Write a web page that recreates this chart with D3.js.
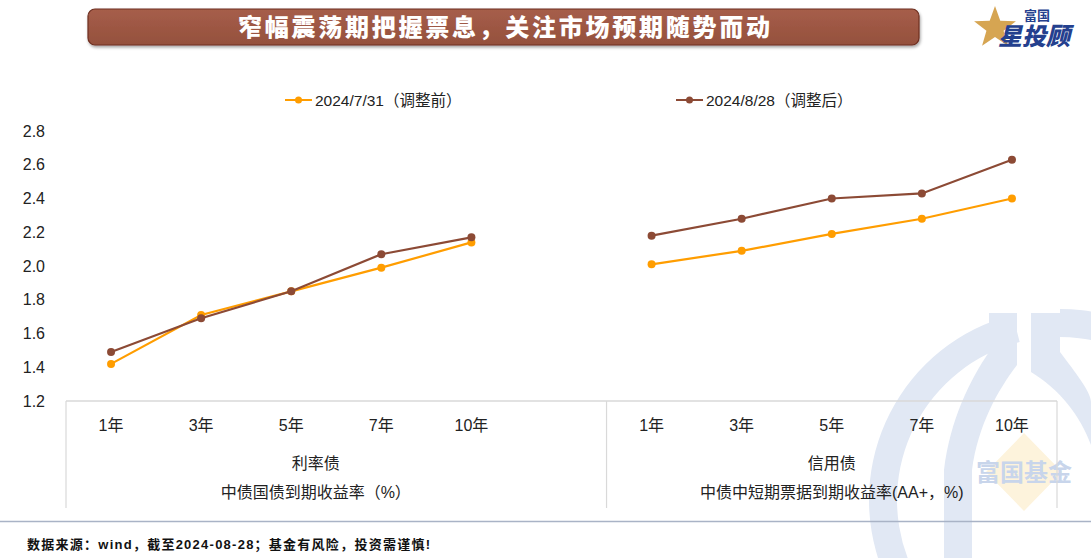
<!DOCTYPE html>
<html>
<head>
<meta charset="utf-8">
<script src="https://cdn.jsdelivr.net/npm/d3@7"></script>
<style>
  body { margin: 0; background: #fff; }
  svg { display: block; font-family: "Liberation Sans", "Noto Sans CJK SC", sans-serif; }
</style>
</head>
<body>
<script>
// categories for both groups (left group has an empty 6th slot)
var rateCats = ["1年", "3年", "5年", "7年", "10年", ""];
var creditCats = ["1年", "3年", "5年", "7年", "10年"];
var groupNames = ["利率债", "信用债"];
var groupSubs = ["中债国债到期收益率（%）", "中债中短期票据到期收益率(AA+，%)"];
var seriesNames = ["2024/7/31（调整前）", "2024/8/28（调整后）"];

// values
var rateBefore = [1.42, 1.71, 1.85, 1.99, 2.14];
var rateAfter = [1.49, 1.69, 1.85, 2.07, 2.17];
var creditBefore = [2.01, 2.09, 2.19, 2.28, 2.40];
var creditAfter = [2.18, 2.28, 2.40, 2.43, 2.63];

var yTicks = [1.2, 1.4, 1.6, 1.8, 2.0, 2.2, 2.4, 2.6, 2.8];

var colors = ["#ff9d00", "#8c4a35"];

var w = 1091, h = 558;

var svg = d3.select("body").append("svg")
  .attr("width", w)
  .attr("height", h);

// keys for the band scale
var keys = [];
rateCats.forEach(function(c, i) { keys.push("r" + i); });
creditCats.forEach(function(c, i) { keys.push("c" + i); });

var x = d3.scaleBand().domain(keys).range([66, 1057]).padding(0);
var y = d3.scaleLinear().domain([1.2, 2.8]).range([401, 131]);

// watermark behind everything
var wm = svg.append("g").attr("class", "watermark");
var wmBlue = "#e1e8f4";
wm.append("path")
  .attr("transform", "translate(1060,500)")
  .attr("d", d3.arc().innerRadius(163).outerRadius(191).startAngle(-Math.PI * 0.62).endAngle(-0.25)())
  .attr("fill", wmBlue);
wm.append("path")
  .attr("transform", "translate(1060,500)")
  .attr("d", d3.arc().innerRadius(163).outerRadius(191).startAngle(0.0).endAngle(Math.PI * 0.6)())
  .attr("fill", wmBlue);
wm.append("path")
  .attr("d", "M989,313 L1017,313 L1017,365 C998,390 978,425 972,470 L972,558 L944,558 L944,470 C950,420 970,380 989,352 Z")
  .attr("fill", wmBlue);
wm.append("path")
  .attr("d", "M1031,313 L1060,313 L1060,352 C1075,372 1091,392 1091,402 L1091,445 C1080,415 1060,390 1031,372 Z")
  .attr("fill", wmBlue);
wm.append("path")
  .attr("d", "M1024,433 L1062,472 L1024,511 L986,472 Z")
  .attr("fill", "#fdf3dc");
wm.append("text")
  .attr("x", 1024).attr("y", 481)
  .attr("text-anchor", "middle")
  .attr("font-size", 24)
  .attr("font-weight", "bold")
  .attr("fill", "#c8d5eb")
  .text("富国基金");

// title banner
var defs = svg.append("defs");
var grad = defs.append("linearGradient").attr("id", "bannerGrad")
  .attr("x1", 0).attr("y1", 0).attr("x2", 0).attr("y2", 1);
grad.append("stop").attr("offset", "0%").attr("stop-color", "#a65e4a");
grad.append("stop").attr("offset", "100%").attr("stop-color", "#94503d");
var shadow = defs.append("filter").attr("id", "shadow")
  .attr("x", "-5%").attr("y", "-30%").attr("width", "110%").attr("height", "170%");
shadow.append("feDropShadow").attr("dx", 1).attr("dy", 2).attr("stdDeviation", 1.5)
  .attr("flood-color", "#000").attr("flood-opacity", 0.35);

svg.append("rect")
  .attr("x", 88).attr("y", 9)
  .attr("width", 831).attr("height", 36)
  .attr("rx", 7)
  .attr("fill", "url(#bannerGrad)")
  .attr("stroke", "#6e2f20")
  .attr("stroke-width", 1.2)
  .attr("filter", "url(#shadow)");
svg.append("text")
  .attr("x", 238).attr("y", 36)
  .attr("textLength", 532)
  .attr("lengthAdjust", "spacing")
  .attr("font-size", 24)
  .attr("font-weight", "900")
  .attr("fill", "#fff")
  .attr("font-family", "Noto Sans CJK SC")
  .text("窄幅震荡期把握票息，关注市场预期随势而动");

// logo top right
var logo = svg.append("g").attr("class", "logo");
var star = d3.range(10).map(function(i) {
  var r = i % 2 === 0 ? 22 : 9;
  var a = -Math.PI / 2 + i * Math.PI / 5;
  return [995 + r * Math.cos(a), 28 + r * Math.sin(a)];
});
logo.append("path")
  .attr("d", d3.line()(star) + "Z")
  .attr("fill", "#d6a552");
logo.append("text")
  .attr("x", 1024).attr("y", 20)
  .attr("font-size", 13).attr("font-weight", "bold")
  .attr("fill", "#24408e")
  .text("富国");
logo.append("text")
  .attr("x", 998).attr("y", 45)
  .attr("font-size", 24).attr("font-weight", "900")
  .attr("font-style", "italic")
  .attr("fill", "#24408e")
  .text("星投顾");

// legend
var legendX = [285, 676];
seriesNames.forEach(function(name, i) {
  var g = svg.append("g").attr("transform", "translate(" + legendX[i] + ",100)");
  g.append("line").attr("x1", 0).attr("x2", 27).attr("stroke", colors[i]).attr("stroke-width", 2);
  g.append("circle").attr("cx", 13.5).attr("r", 3.5).attr("fill", colors[i]);
  g.append("text").attr("x", 30).attr("y", 5.5)
    .attr("font-size", 15.5).attr("fill", "#222")
    .text(name);
});

// y axis labels (no line)
var yAxis = d3.axisLeft(y).tickValues(yTicks).tickFormat(d3.format(".1f")).tickSize(0).tickPadding(0);
var yg = svg.append("g").attr("transform", "translate(45,0)").call(yAxis);
yg.select(".domain").remove();
yg.selectAll("text").attr("font-size", 16).attr("fill", "#222")
  .attr("font-family", "Liberation Sans");

// x axis base and group separators
svg.append("line")
  .attr("x1", 66).attr("x2", 1057).attr("y1", 401).attr("y2", 401)
  .attr("stroke", "#d9d9d9").attr("stroke-width", 1.5);
[66, x("c0"), 1057].forEach(function(px) {
  svg.append("line")
    .attr("x1", px).attr("x2", px).attr("y1", 401).attr("y2", 508)
    .attr("stroke", "#d9d9d9").attr("stroke-width", 1.2);
});

// category labels
var catLabels = keys.map(function(k) {
  return k[0] === "r" ? rateCats[+k.slice(1)] : creditCats[+k.slice(1)];
});
svg.selectAll("text.cat")
  .data(keys)
  .enter().append("text")
  .attr("class", "cat")
  .attr("x", function(d) { return x(d) + x.bandwidth() / 2; })
  .attr("y", 431)
  .attr("text-anchor", "middle")
  .attr("font-size", 16)
  .attr("fill", "#222")
  .text(function(d, i) { return catLabels[i]; });

// group labels
var groupCenter = [
  (x("r0") + x("r5") + x.bandwidth() / 2) / 2 + 2,
  (x("c0") + 1057) / 2
];
groupNames.forEach(function(name, i) {
  svg.append("text")
    .attr("x", groupCenter[i]).attr("y", 469)
    .attr("text-anchor", "middle")
    .attr("font-size", 16).attr("fill", "#222")
    .text(name);
  svg.append("text")
    .attr("x", groupCenter[i]).attr("y", 498)
    .attr("text-anchor", "middle")
    .attr("font-size", 16).attr("fill", "#222")
    .text(groupSubs[i]);
});

// lines and points
var line = d3.line()
  .x(function(d) { return x(d.k) + x.bandwidth() / 2; })
  .y(function(d) { return y(d.v); });

function toPoints(prefix, vals) {
  return vals.map(function(v, i) { return { k: prefix + i, v: v }; });
}

var series = [
  { c: 0, pts: toPoints("r", rateBefore) },
  { c: 0, pts: toPoints("c", creditBefore) },
  { c: 1, pts: toPoints("r", rateAfter) },
  { c: 1, pts: toPoints("c", creditAfter) }
];

series.forEach(function(s) {
  svg.append("path")
    .datum(s.pts)
    .attr("d", line)
    .attr("fill", "none")
    .attr("stroke", colors[s.c])
    .attr("stroke-width", 2.2);
  svg.selectAll(null)
    .data(s.pts)
    .enter().append("circle")
    .attr("cx", function(d) { return x(d.k) + x.bandwidth() / 2; })
    .attr("cy", function(d) { return y(d.v); })
    .attr("r", 4)
    .attr("fill", colors[s.c]);
});

// bottom rule and source note
svg.append("line")
  .attr("x1", 0).attr("x2", w).attr("y1", 521.5).attr("y2", 521.5)
  .attr("stroke", "#a9b3c6").attr("stroke-width", 1.5);
svg.append("text")
  .attr("x", 27).attr("y", 549)
  .attr("font-size", 13)
  .attr("font-weight", "bold")
  .attr("textLength", 403)
  .attr("lengthAdjust", "spacing")
  .attr("fill", "#111")
  .text("数据来源：wind，截至2024-08-28；基金有风险，投资需谨慎!");
</script>
</body>
</html>
